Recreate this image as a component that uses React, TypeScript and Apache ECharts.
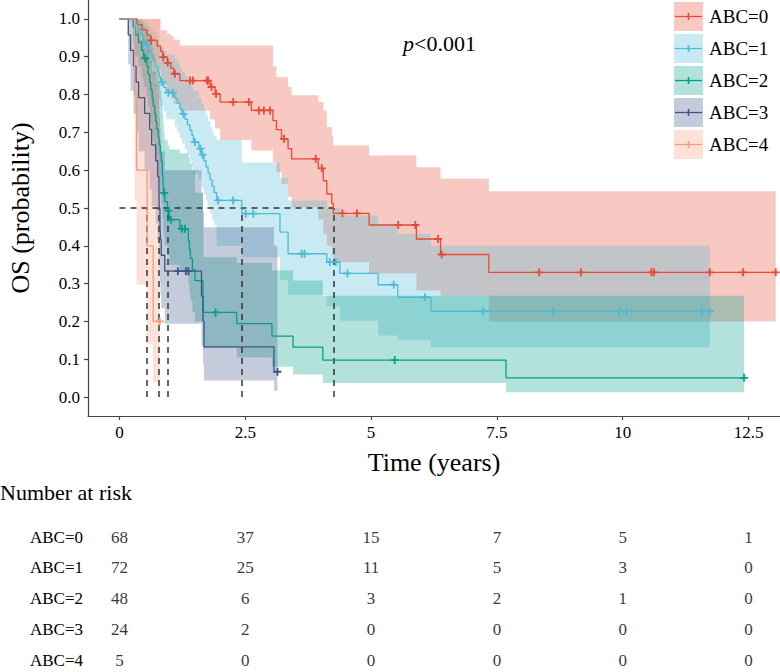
import React, { useEffect, useRef } from "react";
import * as echarts from "echarts";

const FONT = '"Liberation Serif", "Times New Roman", serif';

const groupNames = ["ABC=0", "ABC=1", "ABC=2", "ABC=3", "ABC=4"];
const groupColors = ["#E64B35", "#4DBBD5", "#00A087", "#3C5488", "#F39B7F"];

// ABC=0
const t0 = [0, 0.35, 0.45, 0.55, 0.62, 0.75, 0.82, 0.86, 0.95, 1.02, 1.08, 1.2, 1.8, 1.9, 2.0, 2.62, 3.05, 3.12, 3.22, 3.35, 3.42, 3.95, 4.05, 4.12, 4.22, 4.25, 4.96, 5.9, 6.38, 7.34, 13.04];
const s0 = [1, 0.985, 0.971, 0.957, 0.943, 0.928, 0.914, 0.899, 0.884, 0.869, 0.855, 0.837, 0.82, 0.802, 0.78, 0.758, 0.731, 0.707, 0.683, 0.657, 0.63, 0.605, 0.572, 0.537, 0.512, 0.486, 0.455, 0.418, 0.377, 0.33, 0.33];
const up0 = [1, 1, 1, 1, 1, 1, 0.97, 0.97, 0.96, 0.955, 0.945, 0.93, 0.93, 0.93, 0.93, 0.93, 0.875, 0.846, 0.846, 0.82, 0.798, 0.78, 0.758, 0.714, 0.69, 0.665, 0.639, 0.608, 0.578, 0.544, 0.544];
const lo0 = [1, 0.96, 0.935, 0.91, 0.89, 0.865, 0.845, 0.825, 0.805, 0.79, 0.775, 0.758, 0.735, 0.71, 0.68, 0.652, 0.621, 0.595, 0.564, 0.53, 0.502, 0.47, 0.43, 0.4, 0.375, 0.357, 0.327, 0.282, 0.268, 0.2, 0.2];
const cens0 = [0.63, 0.87, 0.96, 1.1, 1.4, 1.46, 1.74, 1.76, 1.83, 1.92, 2.26, 2.57, 2.77, 2.87, 2.99, 3.27, 3.9, 4.02, 4.43, 4.72, 5.54, 5.88, 6.33, 6.4, 8.34, 9.17, 10.57, 10.62, 11.73, 12.39, 13.04];

// ABC=1
const t1 = [0, 0.3, 0.36, 0.42, 0.47, 0.52, 0.58, 0.63, 0.68, 0.72, 0.76, 0.79, 0.82, 0.88, 0.93, 1.1, 1.15, 1.2, 1.24, 1.3, 1.35, 1.4, 1.44, 1.47, 1.58, 1.63, 1.68, 1.72, 1.76, 1.8, 1.84, 1.88, 1.93, 2.43, 3.19, 3.35, 4.12, 4.38, 5.14, 5.53, 6.19, 11.73];
const s1 = [1, 0.986, 0.972, 0.958, 0.944, 0.931, 0.917, 0.903, 0.889, 0.875, 0.861, 0.847, 0.833, 0.819, 0.805, 0.791, 0.777, 0.763, 0.749, 0.735, 0.72, 0.706, 0.692, 0.674, 0.657, 0.641, 0.625, 0.608, 0.592, 0.575, 0.558, 0.541, 0.52, 0.485, 0.436, 0.379, 0.357, 0.327, 0.297, 0.264, 0.227, 0.227];
const up1 = [1, 1, 1, 1, 0.995, 0.99, 0.98, 0.97, 0.965, 0.955, 0.945, 0.935, 0.925, 0.915, 0.905, 0.895, 0.885, 0.87, 0.86, 0.85, 0.84, 0.833, 0.82, 0.81, 0.79, 0.775, 0.76, 0.745, 0.73, 0.715, 0.7, 0.69, 0.68, 0.62, 0.58, 0.52, 0.5, 0.48, 0.458, 0.432, 0.4, 0.4];
const lo1 = [1, 0.96, 0.94, 0.92, 0.9, 0.885, 0.87, 0.855, 0.84, 0.82, 0.8, 0.785, 0.77, 0.755, 0.735, 0.715, 0.7, 0.685, 0.67, 0.655, 0.64, 0.625, 0.61, 0.59, 0.575, 0.555, 0.535, 0.52, 0.505, 0.485, 0.47, 0.455, 0.4, 0.37, 0.31, 0.27, 0.24, 0.202, 0.163, 0.15, 0.132, 0.132];
const cens1 = [0.54, 0.84, 0.97, 1.06, 1.27, 1.5, 1.61, 1.65, 1.96, 2.26, 2.51, 2.66, 3.62, 3.68, 4.18, 4.3, 4.53, 5.45, 6.07, 7.23, 8.61, 9.93, 10.08, 11.57, 11.73];

// ABC=2
const t2 = [0, 0.27, 0.31, 0.38, 0.44, 0.48, 0.54, 0.57, 0.6, 0.62, 0.65, 0.67, 0.7, 0.72, 0.74, 0.77, 0.79, 0.81, 0.83, 0.85, 0.86, 0.87, 0.88, 0.9, 0.955, 0.99, 1.2, 1.37, 1.39, 1.41, 1.45, 1.5, 1.66, 1.67, 2.33, 3.03, 3.45, 4.04, 7.68, 12.41];
const s2 = [1, 0.979, 0.958, 0.938, 0.917, 0.896, 0.875, 0.854, 0.833, 0.812, 0.791, 0.77, 0.75, 0.729, 0.708, 0.687, 0.666, 0.645, 0.624, 0.603, 0.582, 0.561, 0.54, 0.517, 0.493, 0.469, 0.445, 0.414, 0.39, 0.366, 0.337, 0.308, 0.266, 0.224, 0.194, 0.161, 0.132, 0.098, 0.051, 0.051];
const up2 = [1, 1, 1, 0.995, 0.99, 0.98, 0.97, 0.96, 0.95, 0.94, 0.925, 0.91, 0.895, 0.88, 0.865, 0.85, 0.83, 0.81, 0.79, 0.77, 0.75, 0.725, 0.7, 0.68, 0.665, 0.655, 0.645, 0.635, 0.625, 0.617, 0.6, 0.54, 0.45, 0.37, 0.355, 0.335, 0.308, 0.268, 0.268, 0.268];
const lo2 = [1, 0.94, 0.9, 0.875, 0.845, 0.82, 0.795, 0.77, 0.745, 0.72, 0.695, 0.675, 0.65, 0.625, 0.6, 0.58, 0.555, 0.535, 0.51, 0.49, 0.47, 0.445, 0.425, 0.4, 0.375, 0.35, 0.335, 0.3, 0.275, 0.255, 0.225, 0.2, 0.16, 0.13, 0.105, 0.08, 0.06, 0.037, 0.013, 0.013];
const cens2 = [0.51, 0.89, 0.97, 1.02, 1.24, 1.3, 1.91, 5.47, 12.41];

// ABC=3
const t3 = [0, 0.175, 0.22, 0.28, 0.33, 0.38, 0.5, 0.6, 0.64, 0.72, 0.76, 0.785, 0.79, 0.805, 0.815, 0.83, 0.9, 1.63, 1.66, 1.68, 3.07, 3.14];
const s3 = [1, 0.958, 0.917, 0.875, 0.833, 0.792, 0.75, 0.708, 0.667, 0.625, 0.583, 0.542, 0.5, 0.458, 0.417, 0.375, 0.333, 0.267, 0.2, 0.133, 0.067, 0.067];
const up3 = [1, 1, 1, 0.99, 0.97, 0.945, 0.92, 0.89, 0.86, 0.83, 0.8, 0.77, 0.74, 0.71, 0.68, 0.65, 0.6, 0.54, 0.49, 0.449, 0.4, 0.4];
const lo3 = [1, 0.88, 0.81, 0.75, 0.7, 0.65, 0.6, 0.55, 0.505, 0.46, 0.42, 0.38, 0.34, 0.305, 0.27, 0.235, 0.194, 0.135, 0.085, 0.044, 0.017, 0.017];
const cens3 = [1.16, 1.32, 1.37, 3.14];

// ABC=4
const t4 = [0, 0.3, 0.34, 0.55, 0.67, 0.8];
const s4 = [1, 0.8, 0.6, 0.4, 0.2, 0.2];
const up4 = [1, 1, 1, 1, 1, 1];
const lo4 = [1, 0.52, 0.297, 0.141, 0.039, 0.039];
const cens4 = [0.8];

const xTickValues = [0, 2.5, 5, 7.5, 10, 12.5];
const xTickLabels = ["0", "2.5", "5", "7.5", "10", "12.5"];
const yTickValues = [0, 0.1, 0.2, 0.3, 0.4, 0.5, 0.6, 0.7, 0.8, 0.9, 1.0];
const yTickLabels = ["0.0", "0.1", "0.2", "0.3", "0.4", "0.5", "0.6", "0.7", "0.8", "0.9", "1.0"];

const riskTimes = [0, 2.5, 5, 7.5, 10, 12.5];
const risk0 = [68, 37, 15, 7, 5, 1];
const risk1 = [72, 25, 11, 5, 3, 0];
const risk2 = [48, 6, 3, 2, 1, 0];
const risk3 = [24, 2, 0, 0, 0, 0];
const risk4 = [5, 0, 0, 0, 0, 0];

const curves = [
  { T: t0, S: s0, U: up0, L: lo0, C: cens0 },
  { T: t1, S: s1, U: up1, L: lo1, C: cens1 },
  { T: t2, S: s2, U: up2, L: lo2, C: cens2 },
  { T: t3, S: s3, U: up3, L: lo3, C: cens3 },
  { T: t4, S: s4, U: up4, L: lo4, C: cens4 },
];
const riskRows = [risk0, risk1, risk2, risk3, risk4];

function rgba(hex: string, a: number) {
  const n = parseInt(hex.slice(1), 16);
  return `rgba(${(n >> 16) & 255},${(n >> 8) & 255},${n & 255},${a})`;
}
function stepAt(T: number[], S: number[], t: number) {
  let k = 0;
  for (let i = 0; i < T.length; i++) if (T[i] <= t) k = i;
  return S[k];
}
function labelFor(values: number[], labels: string[], v: number) {
  const i = values.findIndex((x) => Math.abs(x - v) < 1e-6);
  return i >= 0 ? labels[i] : "";
}

const PLUS = "path://M3.1,0H4.9V3.1H8V4.9H4.9V8H3.1V4.9H0V3.1H3.1Z";
const ALPHA = 0.3;

export default function App() {
  const ref = useRef<HTMLDivElement>(null);
  useEffect(() => {
    if (!ref.current) return;
    const chart = echarts.init(ref.current, null, { renderer: "svg" });

    const medians = curves.map((c) => {
      const i = c.S.findIndex((v) => v <= 0.5);
      return c.T[i];
    });
    const maxMed = Math.max(...medians);

    const ribbons = curves.map((c, gi) => ({
      type: "custom",
      coordinateSystem: "cartesian2d",
      xAxisIndex: 0,
      yAxisIndex: 0,
      silent: true,
      data: [[0, 0]],
      renderItem: (_p: any, api: any) => {
        const pts: number[][] = [];
        for (let k = 0; k < c.T.length - 1; k++) {
          pts.push(api.coord([c.T[k], c.U[k]]));
          pts.push(api.coord([c.T[k + 1], c.U[k]]));
        }
        for (let k = c.T.length - 2; k >= 0; k--) {
          pts.push(api.coord([c.T[k + 1], c.L[k]]));
          pts.push(api.coord([c.T[k], c.L[k]]));
        }
        return { type: "polygon", shape: { points: pts }, style: { fill: rgba(groupColors[gi], ALPHA) } };
      },
    }));

    const lines = curves.map((c, gi) => ({
      type: "line",
      name: groupNames[gi],
      xAxisIndex: 0,
      yAxisIndex: 0,
      step: "end",
      symbol: "none",
      silent: true,
      lineStyle: { color: groupColors[gi], width: 1.3 },
      data: c.T.map((t, k) => [t, c.S[k]]),
    }));

    const censors = curves.map((c, gi) => ({
      type: "scatter",
      xAxisIndex: 0,
      yAxisIndex: 0,
      symbol: PLUS,
      symbolSize: 8,
      silent: true,
      itemStyle: { color: groupColors[gi], opacity: 1 },
      data: c.C.map((t) => [t, stepAt(c.T, c.S, t)]),
    }));

    const medianLines = {
      type: "lines",
      coordinateSystem: "cartesian2d",
      xAxisIndex: 0,
      yAxisIndex: 0,
      silent: true,
      lineStyle: { color: "#333", width: 1.5, type: [6, 5], opacity: 1 },
      data: [
        { coords: [[0, 0.5], [maxMed, 0.5]] },
        ...medians.map((m) => ({ coords: [[m, 0], [m, 0.5]] })),
      ],
    };

    const riskData: any[] = [];
    riskRows.forEach((row, ri) => row.forEach((n, k) => riskData.push([riskTimes[k], ri, n])));
    const riskSeries = {
      type: "scatter",
      xAxisIndex: 1,
      yAxisIndex: 1,
      symbolSize: 1,
      silent: true,
      itemStyle: { color: "rgba(0,0,0,0)" },
      label: {
        show: true,
        position: "inside",
        formatter: (p: any) => String(p.value[2]),
        color: "#000",
        fontSize: 17,
        fontFamily: FONT,
      },
      data: riskData,
    };

    const legendEls: any[] = [];
    groupNames.forEach((name, i) => {
      const y0 = 2 + i * 32;
      const cy = y0 + 14.5;
      legendEls.push({ type: "rect", shape: { x: 674, y: y0, width: 29, height: 29 }, style: { fill: rgba(groupColors[i], ALPHA) } });
      legendEls.push({ type: "line", shape: { x1: 675, y1: cy, x2: 702, y2: cy }, style: { stroke: groupColors[i], lineWidth: 1.3 } });
      legendEls.push({ type: "line", shape: { x1: 688.5, y1: cy - 3.5, x2: 688.5, y2: cy + 3.5 }, style: { stroke: groupColors[i], lineWidth: 1.6 } });
      legendEls.push({
        type: "text",
        x: 709,
        y: cy,
        style: { text: name, fontSize: 19, fontFamily: FONT, fill: "#000", verticalAlign: "middle", textVerticalAlign: "middle" },
      });
    });

    const axisColor = "#444";
    const option: any = {
      animation: false,
      backgroundColor: "#fff",
      grid: [
        { left: 88, top: 0, width: 692, height: 416, containLabel: false, outerBoundsMode: "none" },
        { left: 88, top: 537, width: 692, height: 123, containLabel: false, outerBoundsMode: "none" },
      ],
      xAxis: [
        {
          type: "value",
          gridIndex: 0,
          min: -0.625,
          max: 13.125,
          name: "Time (years)",
          nameLocation: "middle",
          nameGap: 33,
          nameTextStyle: { fontSize: 26, fontFamily: FONT, color: "#000" },
          axisLine: { show: true, onZero: false, lineStyle: { color: axisColor, width: 1.2 } },
          axisTick: { show: true, length: 4, lineStyle: { color: axisColor, width: 1.2 }, customValues: xTickValues },
          axisLabel: {
            show: true,
            customValues: xTickValues,
            formatter: (v: number) => labelFor(xTickValues, xTickLabels, v),
            fontSize: 17,
            fontFamily: FONT,
            color: "#000",
            margin: 8,
          },
          splitLine: { show: false },
        },
        {
          type: "value",
          gridIndex: 1,
          min: -0.625,
          max: 13.125,
          show: false,
        },
      ],
      yAxis: [
        {
          type: "value",
          gridIndex: 0,
          min: -0.05,
          max: 1.05,
          name: "OS (probability)",
          nameLocation: "middle",
          nameGap: 55,
          nameTextStyle: { fontSize: 26, fontFamily: FONT, color: "#000" },
          axisLine: { show: true, onZero: false, lineStyle: { color: axisColor, width: 1.2 } },
          axisTick: { show: true, length: 4, lineStyle: { color: axisColor, width: 1.2 }, customValues: yTickValues },
          axisLabel: {
            show: true,
            customValues: yTickValues,
            formatter: (v: number) => labelFor(yTickValues, yTickLabels, v),
            fontSize: 17,
            fontFamily: FONT,
            color: "#000",
            margin: 8,
          },
          splitLine: { show: false },
        },
        {
          type: "value",
          gridIndex: 1,
          min: 0,
          max: 4,
          inverse: true,
          axisLine: { show: false },
          axisTick: { show: false },
          splitLine: { show: false },
          axisLabel: {
            show: true,
            customValues: [0, 1, 2, 3, 4],
            formatter: (v: number) => groupNames[Math.round(v)] ?? "",
            fontSize: 17,
            fontFamily: FONT,
            color: "#000",
            margin: 5,
          },
        },
      ],
      graphic: [
        ...legendEls,
        {
          type: "text",
          x: 403,
          y: 43,
          style: {
            text: "{it|p}<0.001",
            rich: { it: { fontStyle: "italic", fontSize: 22, fontFamily: FONT, fill: "#000" } },
            fontSize: 22,
            fontFamily: FONT,
            fill: "#000",
            verticalAlign: "middle",
            textVerticalAlign: "middle",
          },
        },
        {
          type: "text",
          x: 0,
          y: 492,
          style: { text: "Number at risk", fontSize: 22, fontFamily: FONT, fill: "#000", verticalAlign: "middle", textVerticalAlign: "middle" },
        },
      ],
      series: [...ribbons, ...lines, medianLines, ...censors, riskSeries],
    };
    chart.setOption(option);
    return () => chart.dispose();
  }, []);
  return <div ref={ref} style={{ position: "fixed", left: 0, top: 0, width: 780, height: 672, background: "#fff" }} />;
}
